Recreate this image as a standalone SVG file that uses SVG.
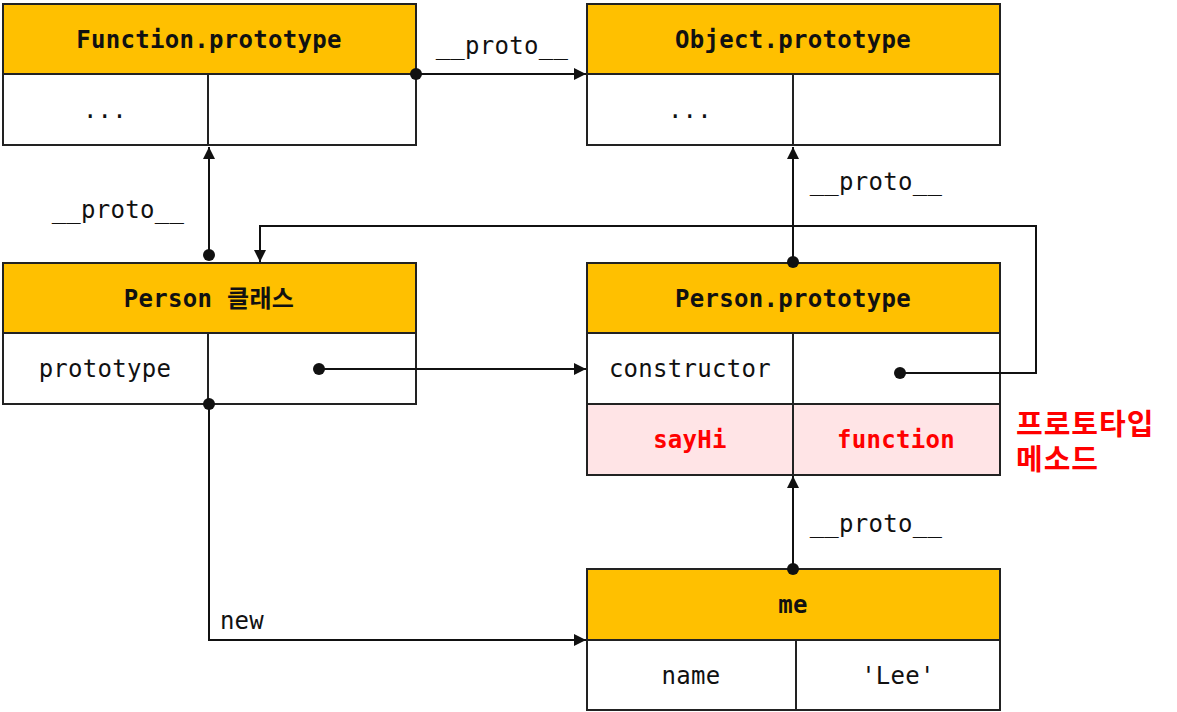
<svg xmlns="http://www.w3.org/2000/svg" width="1177" height="712" viewBox="0 0 1177 712">
<defs>
<marker id="arr" viewBox="0 0 10 10" refX="10" refY="5" markerWidth="12" markerHeight="12" markerUnits="userSpaceOnUse" orient="auto"><path d="M0,0 L10,5 L0,10 z" fill="#111"/></marker>
<marker id="dot" viewBox="0 0 10 10" refX="5" refY="5" markerWidth="12" markerHeight="12" markerUnits="userSpaceOnUse"><circle cx="5" cy="5" r="5" fill="#111"/></marker>
<style>
.box{stroke:#222;stroke-width:2;fill:#fff}
.hd{stroke:#222;stroke-width:2;fill:#ffc000}
.pk{stroke:#222;stroke-width:2;fill:#ffe4e6}
.ln{stroke:#222;stroke-width:2;fill:none}
.t{font-family:"DejaVu Sans Mono","Liberation Mono","Noto Sans CJK KR",monospace;font-size:24px;letter-spacing:0.3px;fill:#111;text-anchor:middle}
.b{font-weight:bold}
.r{fill:#ff0000}
.ko{font-family:"Noto Sans CJK KR",sans-serif;font-size:29px;letter-spacing:1px;font-weight:bold;fill:#ff0000}
.c{stroke:#111;stroke-width:2;fill:none}
</style>
</defs>
<g id="function-prototype">
<rect class="box" x="3" y="4" width="413" height="141"/>
<rect class="hd" x="3" y="4" width="413" height="70"/>
<line class="ln" x1="208" y1="74" x2="208" y2="145"/>
<text class="t b" x="209" y="48">Function.prototype</text>
<text class="t" x="105" y="118">...</text>
</g>
<g id="object-prototype">
<rect class="box" x="587" y="4" width="413" height="141"/>
<rect class="hd" x="587" y="4" width="413" height="70"/>
<line class="ln" x1="793" y1="74" x2="793" y2="145"/>
<text class="t b" x="793" y="48">Object.prototype</text>
<text class="t" x="690" y="118">...</text>
</g>
<g id="person-class">
<rect class="box" x="3" y="263" width="413" height="141"/>
<rect class="hd" x="3" y="263" width="413" height="70"/>
<line class="ln" x1="208" y1="333" x2="208" y2="404"/>
<text class="t b" x="209" y="307">Person 클래스</text>
<text class="t" x="105" y="377">prototype</text>
</g>
<g id="person-prototype">
<rect class="box" x="587" y="263" width="413" height="212"/>
<rect class="hd" x="587" y="263" width="413" height="70"/>
<rect class="pk" x="587" y="404" width="413" height="71"/>
<line class="ln" x1="793" y1="333" x2="793" y2="475"/>
<text class="t b" x="793" y="307">Person.prototype</text>
<text class="t" x="690" y="377">constructor</text>
<text class="t b r" x="690" y="448">sayHi</text>
<text class="t b r" x="896" y="448">function</text>
</g>
<g id="prototype-method-label">
<text class="ko" x="1016" y="435">프로토타입<tspan x="1016" dy="35">메소드</tspan></text>
</g>
<g id="me">
<rect class="box" x="587" y="569" width="413" height="141"/>
<rect class="hd" x="587" y="569" width="413" height="71"/>
<line class="ln" x1="796" y1="640" x2="796" y2="710"/>
<text class="t b" x="793" y="613">me</text>
<text class="t" x="691" y="684">name</text>
<text class="t" x="898" y="684">'Lee'</text>
</g>
<g id="connectors">
<path class="c" d="M416,74 L586,74" marker-start="url(#dot)" marker-end="url(#arr)"/>
<text class="t" x="502" y="54">__proto__</text>
<path class="c" d="M209,255 L209,147" marker-start="url(#dot)" marker-end="url(#arr)"/>
<text class="t" x="118" y="218">__proto__</text>
<path class="c" d="M793,262 L793,147" marker-start="url(#dot)" marker-end="url(#arr)"/>
<text class="t" x="876" y="190">__proto__</text>
<path class="c" d="M900,373 L1036,373 L1036,226 L260,226 L260,262" marker-start="url(#dot)" marker-end="url(#arr)"/>
<path class="c" d="M319,369 L586,369" marker-start="url(#dot)" marker-end="url(#arr)"/>
<path class="c" d="M209,404 L209,640 L586,640" marker-start="url(#dot)" marker-end="url(#arr)"/>
<text class="t" x="242" y="629">new</text>
<path class="c" d="M793,569 L793,476" marker-start="url(#dot)" marker-end="url(#arr)"/>
<text class="t" x="876" y="532">__proto__</text>
</g>
</svg>
